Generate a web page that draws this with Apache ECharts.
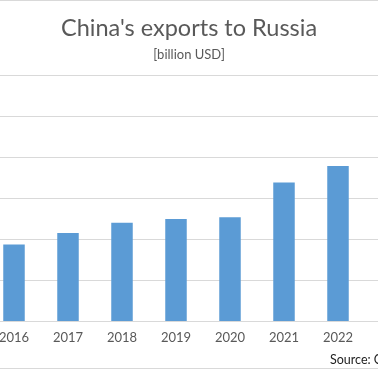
<!DOCTYPE html>
<html>
<head>
<meta charset="utf-8">
<script src="https://cdn.jsdelivr.net/npm/echarts@6/dist/echarts.min.js"></script>
<style>
html,body{margin:0;padding:0;background:#fff;}
#chart{width:378px;height:370px;}
</style>
</head>
<body>
<div id="chart"></div>
<script>
const years = ['2016','2017','2018','2019','2020','2021','2022'];
const exportsBn = [37.3, 42.9, 47.9, 49.7, 50.6, 67.6, 75.6];
const yMin = 0, yMax = 120, yStep = 20;

const chart = echarts.init(document.getElementById('chart'), null, {renderer:'canvas'});
const font = 'Lato, "Open Sans", sans-serif';
chart.setOption({
  animation:false,
  backgroundColor:'#fff',
  title:[
    {text:"China's exports to Russia", left:'center', top:11,
     textStyle:{fontFamily:font, fontSize:23.5, fontWeight:'normal', color:'#595959'}},
    {text:'[billion USD]', left:'center', top:43,
     textStyle:{fontFamily:font, fontSize:13, fontWeight:'normal', color:'#595959'}}
  ],
  grid:[
    {left:-13, right:13, top:75, bottom:49, outerBoundsMode:'none', containLabel:false},
    {left:0, right:0, top:75, bottom:49, outerBoundsMode:'none'}
  ],
  xAxis:[
    {type:'category', data:years, gridIndex:0,
     axisLine:{show:false}, axisTick:{show:false},
     axisLabel:{color:'#595959', fontSize:13, fontFamily:font, margin:10}},
    {type:'value', gridIndex:1, show:false, min:0, max:1}
  ],
  yAxis:[
    {type:'value', gridIndex:0, min:yMin, max:yMax, interval:yStep, show:false, splitLine:{show:false}},
    {type:'value', gridIndex:1, min:yMin, max:yMax, interval:yStep,
     axisLine:{show:false}, axisTick:{show:false}, axisLabel:{show:false},
     splitLine:{show:true, lineStyle:{color:'#D9D9D9', width:1}}}
  ],
  series:[
    {type:'bar', xAxisIndex:0, yAxisIndex:0, data:exportsBn, barWidth:21.5,
     itemStyle:{color:'#5B9BD5'}, z:3}
  ],
  graphic:[
    {type:'rect', shape:{x:0,y:0,width:378,height:1}, style:{fill:'#D9D9D9'}},
    {type:'rect', shape:{x:0,y:368,width:378,height:1}, style:{fill:'#D9D9D9'}},
    {type:'text', x:330, y:353, style:{text:'Source: China Customs', fontFamily:font, fontSize:12.5, fill:'#222'}}
  ]
});
</script>
</body>
</html>
